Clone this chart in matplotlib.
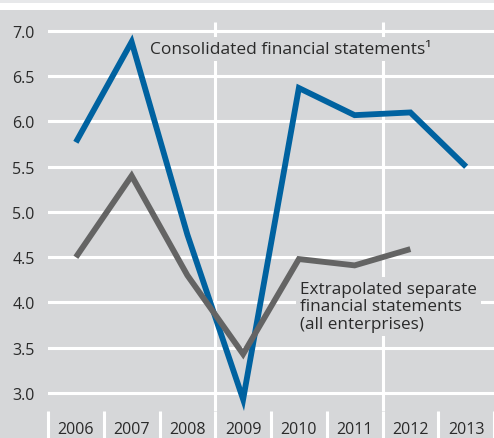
import numpy as np
import matplotlib
matplotlib.use('Agg')
import matplotlib.pyplot as plt
from matplotlib.patches import Rectangle
import matplotlib.transforms as mtransforms

plt.rcParams['font.family'] = ['Open Sans', 'DejaVu Sans']

years = ['2006', '2007', '2008', '2009', '2010', '2011', '2012', '2013']
consolidated = [5.77, 6.88, 4.75, 2.93, 6.37, 6.07, 6.10, 5.50]
separate = [4.50, 5.40, 4.30, 3.43, 4.48, 4.41, 4.59]

bg = '#d6d7d9'
blue = '#0062a0'
grey = '#646464'
txt = '#2a2a2a'

fig = plt.figure(figsize=(4.94, 4.39), dpi=100, facecolor=bg)
# light strip and white band above the panel
fig.patches.append(Rectangle((0, 1 - 11 / 439), 1, 11 / 439, transform=fig.transFigure,
                             facecolor='white', edgecolor='none', zorder=0))
fig.patches.append(Rectangle((0, 1 - 4 / 439), 1, 4 / 439, transform=fig.transFigure,
                             facecolor='#e7e8ea', edgecolor='none', zorder=0))

ax = fig.add_axes([48 / 494, 27 / 439, 446 / 494, 401 / 439])
ax.set_facecolor(bg)
for s in ax.spines.values():
    s.set_visible(False)

x = np.arange(len(years))
ax.set_xlim(-0.5, len(years) - 0.5)
ax.set_ylim(2.801, 7.232)

ax.set_yticks(np.arange(3.0, 7.01, 0.5))
ax.set_yticklabels([f'{v:.1f}' for v in np.arange(3.0, 7.01, 0.5)])
ax.yaxis.grid(True, color='white', lw=2.2)
ax.set_axisbelow(True)
ax.tick_params(axis='y', length=0, pad=9.5, labelsize=11.5, labelcolor=txt)

ax.set_xticks(x)
ax.set_xticklabels(years)
ax.tick_params(axis='x', length=0, pad=7, labelsize=11.5, labelcolor=txt)

# vertical guides through the panel
for xv in (2.5, 5.5):
    ax.vlines(xv, 2.801, 7.10, color='white', lw=2.2, zorder=0.5)

# separators between year labels
trans = mtransforms.blended_transform_factory(ax.transData, ax.transAxes)
for xv in np.arange(-0.5, len(years) + 0.5):
    ax.plot([xv, xv], [0, -27 / 401], transform=trans, color='white', lw=2.2,
            clip_on=False, solid_capstyle='butt')

ax.plot(x, consolidated, color=blue, lw=4.2, solid_joinstyle='miter',
        solid_capstyle='butt', zorder=3)
ax.plot(x[:len(separate)], separate, color=grey, lw=4.2, solid_joinstyle='miter',
        solid_capstyle='butt', zorder=3)

ax.text(1.33, 6.80, 'Consolidated financial statements¹', fontsize=12.5, color=txt,
        va='center', ha='left', zorder=2,
        bbox=dict(facecolor=bg, edgecolor='none', pad=3))
ax.text(4.02, 3.96, 'Extrapolated separate\nfinancial statements\n(all enterprises)',
        fontsize=12.3, color=txt, va='center', ha='left', linespacing=1.12, zorder=2,
        bbox=dict(facecolor=bg, edgecolor='none', pad=3))

fig.savefig('out.png', dpi=100, facecolor=bg)
